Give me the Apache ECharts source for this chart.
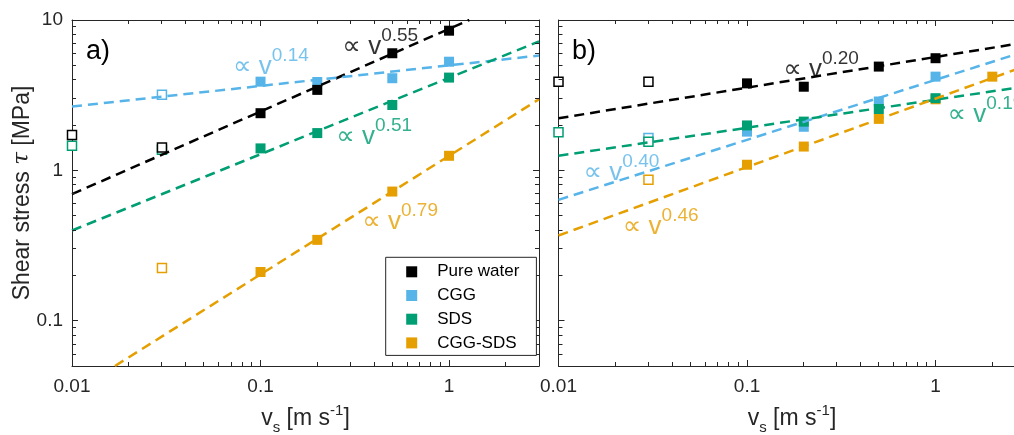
<!DOCTYPE html>
<html><head><meta charset="utf-8">
<script src="https://cdn.jsdelivr.net/npm/echarts@6/dist/echarts.min.js"></script>
<style>html,body{margin:0;padding:0;background:#fff;overflow:hidden}#c{width:1014px;height:435px}</style>
</head><body><div id="c"></div><script>
// ---------- data ----------
const legendNames = ['Pure water', 'CGG', 'SDS', 'CGG-SDS'];
const xTickLabels = ['0.01', '0.1', '1'];
const yTickLabels = ['0.1', '1', '10'];
const minorX = [0.02,0.03,0.04,0.05,0.06,0.07,0.08,0.09,0.2,0.3,0.4,0.5,0.6,0.7,0.8,0.9,2];
const minorY = [0.06,0.07,0.08,0.09,0.2,0.3,0.4,0.5,0.6,0.7,0.8,0.9,2,3,4,5,6,7,8,9];

// panel a) measured points (filled) and excluded points (open)
const waterA_open = [[0.01,1.72],[0.03,1.42]];
const waterA      = [[0.1,2.40],[0.2,3.43],[0.5,6.01],[1,8.49]];
const cggA_open   = [[0.03,3.18]];
const cggA        = [[0.1,3.89],[0.2,3.87],[0.5,4.10],[1,5.28]];
const sdsA_open   = [[0.01,1.46],[0.03,1.37]];
const sdsA        = [[0.1,1.40],[0.2,1.77],[0.5,2.72],[1,4.14]];
const mixA_open   = [[0.03,0.224]];
const mixA        = [[0.1,0.211],[0.2,0.345],[0.5,0.723],[1,1.25]];

// panel b)
const waterB_open = [[0.01,3.89],[0.03,3.89]];
const waterB      = [[0.1,3.79],[0.2,3.60],[0.5,4.90],[1,5.57]];
const cggB_open   = [[0.03,1.64]];
const cggB        = [[0.1,1.81],[0.2,1.95],[0.5,2.87],[1,4.20]];
const sdsB_open   = [[0.01,1.79],[0.03,1.55]];
const sdsB        = [[0.1,1.99],[0.2,2.11],[0.5,2.56],[1,3.02]];
const mixB_open   = [[0.03,0.865]];
const mixB        = [[0.1,1.09],[0.2,1.44],[0.5,2.20],[1,2.97],[2,4.20]];

// power-law fit lines (end points)
const fitWaterA = [[0.01,0.695],[1.28,10]];
const fitCggA   = [[0.01,2.66],[3,5.8]];
const fitSdsA   = [[0.01,0.398],[3,7.2]];
const fitMixA   = [[0.0169,0.05],[3,2.97]];
const fitWaterB = [[0.01,2.22],[3,7.1]];
const fitCggB   = [[0.01,0.637],[3,6.2]];
const fitSdsB   = [[0.01,1.25],[3,3.62]];
const fitMixB   = [[0.01,0.369],[3,4.95]];

// exponent annotations: [x, y, exponent, group]
const annA = [[0.0710,4.87,'0.14','cgg'],[0.270,6.62,'0.55','water'],[0.2506,1.67,'0.51','sds'],[0.344,0.455,'0.79','mix']];
const annB = [[0.1545,4.65,'0.20','water'],[1.15,2.34,'0.19','sds'],[0.0135,0.962,'0.40','cgg'],[0.0218,0.422,'0.46','mix']];

// ---------- styling ----------
const X_MIN = 0.01, X_MAX = 3, Y_MIN = 0.05, Y_MAX = 10;
const AX = '#262626';
const FONT = '"Liberation Sans", Arial, Helvetica, "DejaVu Sans", sans-serif';
const COL = {water:'#000000', cgg:'#56B4E9', sds:'#009E73', mix:'#E69F00'};
const NAME = {water:'Pure water', cgg:'CGG', sds:'SDS', mix:'CGG-SDS'};

const panels = [
  {open:{water:waterA_open,cgg:cggA_open,sds:sdsA_open,mix:mixA_open},
   pts:{water:waterA,cgg:cggA,sds:sdsA,mix:mixA},
   fit:{water:fitWaterA,cgg:fitCggA,sds:fitSdsA,mix:fitMixA}, ann:annA},
  {open:{water:waterB_open,cgg:cggB_open,sds:sdsB_open,mix:mixB_open},
   pts:{water:waterB,cgg:cggB,sds:sdsB,mix:mixB},
   fit:{water:fitWaterB,cgg:fitCggB,sds:fitSdsB,mix:fitMixB}, ann:annB}
];

function isDecade(v){ const l = Math.log10(v); return Math.abs(l - Math.round(l)) < 1e-6; }
function xFmt(v){ if(!isDecade(v)) return ''; const i = Math.round(Math.log10(v)) + 2; return xTickLabels[i] || ''; }
function yFmt(v){ if(!isDecade(v)) return ''; const i = Math.round(Math.log10(v)) + 1; return yTickLabels[i] || ''; }
function px(v){ return Math.round(v - 0.5) + 0.5; }

const grids = [
  {left:72, top:20, width:467, height:346, outerBoundsMode:'none', containLabel:false},
  {left:558.5, top:20, width:467, height:346, outerBoundsMode:'none', containLabel:false}
];

const xNameRich = {
  t:{fontSize:23, lineHeight:26, color:AX, fontFamily:FONT},
  sub:{fontSize:15, lineHeight:16, color:AX, fontFamily:FONT, padding:[18,0,0,0]},
  sup:{fontSize:15, lineHeight:16, color:AX, fontFamily:FONT, padding:[0,0,16,0]}
};

function xAxisCfg(g, pos) {
  const bottom = pos === 'bottom';
  return {
    type:'log', logBase:10, gridIndex:g, position:pos, min:X_MIN, max:X_MAX,
    axisLine:{show:true, onZero:false, lineStyle:{color:AX, width:1}},
    axisTick:{show:true, inside:true, length:6, lineStyle:{color:AX, width:1}},
    axisLabel:{show:bottom, formatter:xFmt, fontSize:19, color:AX, margin:11, fontFamily:FONT},
    splitLine:{show:false}, minorTick:{show:false},
    name: bottom ? '{t|v}{sub|s}{t| [m s}{sup|-1}{t|]}' : '',
    nameLocation:'middle', nameGap:40, nameMoveOverlap:false,
    nameTextStyle:{rich:xNameRich}
  };
}
function yAxisCfg(g, pos, labels) {
  const left = pos === 'left';
  return {
    type:'log', logBase:10, gridIndex:g, position:pos, min:Y_MIN, max:Y_MAX,
    axisLine:{show:true, onZero:false, lineStyle:{color:AX, width:1}},
    axisTick:{show:true, inside:true, length:6, lineStyle:{color:AX, width:1}},
    axisLabel:{show:labels, formatter:yFmt, fontSize:19, color:AX, margin:9, fontFamily:FONT},
    splitLine:{show:false}, minorTick:{show:false},
    name: (labels && left) ? '{n|Shear stress }{i|τ}{n| [MPa]}' : '',
    nameLocation:'middle', nameGap:38, nameMoveOverlap:false,
    nameTextStyle:{rich:{
      n:{fontSize:23, color:AX, fontFamily:FONT},
      i:{fontSize:23, color:AX, fontStyle:'italic', fontFamily:'"DejaVu Serif", serif'}
    }}
  };
}

const xAxes = [], yAxes = [], series = [];
panels.forEach((p, g) => {
  const xb = xAxes.length; xAxes.push(xAxisCfg(g,'bottom')); xAxes.push(xAxisCfg(g,'top'));
  const yl = yAxes.length; yAxes.push(yAxisCfg(g,'left', g===0)); yAxes.push(yAxisCfg(g,'right', false));
  const order = ['cgg','mix','sds','water'];
  order.forEach((k, zi) => {
    series.push({type:'scatter', name:NAME[k], xAxisIndex:xb, yAxisIndex:yl, data:p.pts[k],
      symbol:'rect', symbolSize:10, z:2+zi*0.1,
      itemStyle:{color:COL[k], borderColor:COL[k], borderWidth:0, opacity:1}, silent:true});
    series.push({type:'scatter', name:NAME[k]+' (excluded)', xAxisIndex:xb, yAxisIndex:yl, data:p.open[k],
      symbol:'rect', symbolSize:9, z:2+zi*0.1,
      itemStyle:{color:'#ffffff', borderColor:COL[k], borderWidth:1.5, opacity:1}, silent:true});
  });
  ['water','cgg','sds','mix'].forEach(k => {
    series.push({type:'line', name:'fit '+k, xAxisIndex:xb, yAxisIndex:yl, data:p.fit[k],
      symbol:'none', showSymbol:false, z:3, silent:true, clip:true,
      lineStyle:{color:COL[k], width:2.5, type:[10,6]}});
  });
  series.push({type:'scatter', name:'annotations', xAxisIndex:xb, yAxisIndex:yl, z:4, silent:true,
    symbolSize:1, itemStyle:{color:'rgba(0,0,0,0)'},
    data:p.ann.map(a => ({value:[a[0],a[1]],
      label:{show:true, position:'right', distance:0, color:COL[a[3]],
        formatter:'{p|∝ v}{s|' + a[2] + '}',
        rich:{
          p:{fontSize:26, lineHeight:28, color:COL[a[3]], fontFamily:FONT},
          s:{fontSize:19, lineHeight:20, color:COL[a[3]], fontFamily:FONT, padding:[0,0,22,0]}
        }}}))
  });
  series.push({type:'custom', name:'minor x', xAxisIndex:xb, yAxisIndex:yl, clip:false, silent:true, z:5,
    data:minorX.map(v => [v, Y_MIN]),
    renderItem:(params, api) => {
      const v = api.value(0);
      const b = api.coord([v, Y_MIN]), t = api.coord([v, Y_MAX]);
      const x = px(b[0]);
      return {type:'group', children:[
        {type:'line', shape:{x1:x,y1:b[1],x2:x,y2:b[1]-4}, style:{stroke:AX, lineWidth:1}},
        {type:'line', shape:{x1:x,y1:t[1],x2:x,y2:t[1]+4}, style:{stroke:AX, lineWidth:1}}]};
    }});
  series.push({type:'custom', name:'minor y', xAxisIndex:xb, yAxisIndex:yl, clip:false, silent:true, z:5,
    data:minorY.map(v => [X_MIN, v]),
    renderItem:(params, api) => {
      const v = api.value(1);
      const l = api.coord([X_MIN, v]), r = api.coord([X_MAX, v]);
      const y = px(l[1]);
      return {type:'group', children:[
        {type:'line', shape:{x1:l[0],y1:y,x2:l[0]+4,y2:y}, style:{stroke:AX, lineWidth:1}},
        {type:'line', shape:{x1:r[0],y1:y,x2:r[0]-4,y2:y}, style:{stroke:AX, lineWidth:1}}]};
    }});
});

const chart = echarts.init(document.getElementById('c'), null, {renderer:'canvas'});
chart.setOption({
  animation:false,
  backgroundColor:'#ffffff',
  grid:grids, xAxis:xAxes, yAxis:yAxes, series:series,
  legend:{
    data:legendNames.map(n => ({name:n})),
    icon:'rect',
    orient:'vertical', left:385.7, top:257.3, selectedMode:false,
    itemWidth:11, itemHeight:11, itemGap:6.7, padding:[6,17,4,20.5],
    backgroundColor:'#ffffff', borderColor:AX, borderWidth:1, borderRadius:0,
    textStyle:{fontSize:17, lineHeight:17, color:'#000', fontFamily:FONT, padding:[0,0,0,15]}, z:10
  },
  graphic:[
    {type:'text', x:86, y:52, style:{text:'a)', fontSize:27, fill:'#000', fontFamily:FONT, textVerticalAlign:'middle'}},
    {type:'text', x:572, y:52, style:{text:'b)', fontSize:27, fill:'#000', fontFamily:FONT, textVerticalAlign:'middle'}}
  ]
});
</script></body></html>
